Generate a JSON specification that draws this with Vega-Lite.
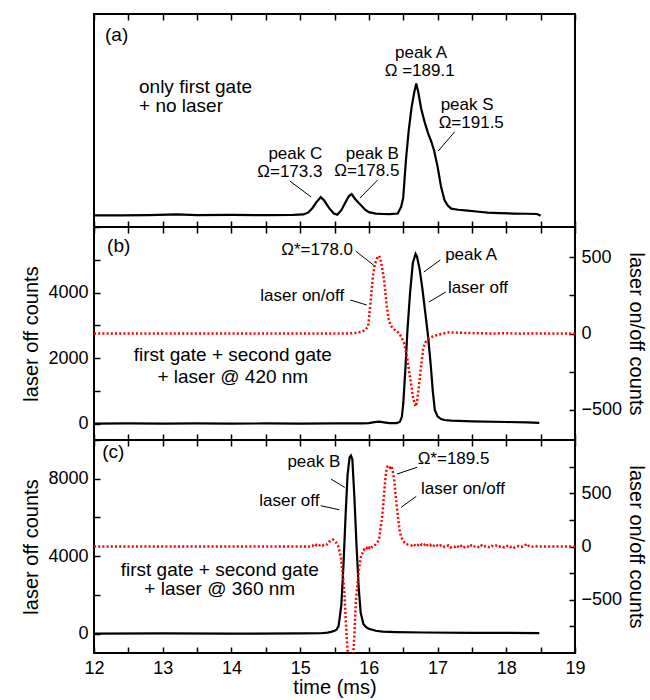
{
  "$schema": "https://vega.github.io/schema/vega-lite/v6.json",
  "padding": {"left": 20, "top": 12, "right": 0, "bottom": 0},
  "spacing": 0,
  "bounds": "flush",
  "config": {
    "view": {"stroke": "black", "strokeWidth": 2},
    "axis": {"grid": false, "domain": false, "tickColor": "black", "tickWidth": 1.5, "tickSize": -6, "labelPadding": 12, "labelFont": "Liberation Sans", "labelFontSize": 18, "labelColor": "black", "labelOverlap": false, "labelFlush": false, "titleFont": "Liberation Sans", "titleFontSize": 20, "titleFontWeight": "normal", "titleColor": "black"},
    "text": {"font": "Liberation Sans", "color": "black"}
  },
  "datasets": {
    "a_black": [
      {"t":12.0,"v":0.02},{"t":12.4,"v":0.02},{"t":12.8,"v":0.03},{"t":13.2,"v":0.06},{"t":13.5,"v":0.03},{"t":14.0,"v":0.04},{"t":14.5,"v":0.03},{"t":14.9,"v":0.04},{"t":15.05,"v":0.06},{"t":15.12,"v":0.15},{"t":15.18,"v":0.35},{"t":15.24,"v":0.62},{"t":15.3,"v":0.83},{"t":15.35,"v":0.68},{"t":15.42,"v":0.35},{"t":15.49,"v":0.1},{"t":15.54,"v":0.05},{"t":15.6,"v":0.25},{"t":15.66,"v":0.6},{"t":15.71,"v":0.88},{"t":15.75,"v":0.97},{"t":15.8,"v":0.75},{"t":15.85,"v":0.58},{"t":15.9,"v":0.43},{"t":15.95,"v":0.26},{"t":16.0,"v":0.16},{"t":16.1,"v":0.1},{"t":16.2,"v":0.08},{"t":16.3,"v":0.07},{"t":16.42,"v":0.1},{"t":16.47,"v":0.4},{"t":16.5,"v":0.8},{"t":16.54,"v":2.5},{"t":16.58,"v":3.8},{"t":16.62,"v":4.8},{"t":16.66,"v":5.5},{"t":16.69,"v":5.9},{"t":16.72,"v":5.5},{"t":16.76,"v":4.8},{"t":16.81,"v":4.2},{"t":16.86,"v":3.7},{"t":16.91,"v":3.3},{"t":16.95,"v":2.9},{"t":17.0,"v":2.2},{"t":17.05,"v":1.3},{"t":17.1,"v":0.7},{"t":17.15,"v":0.45},{"t":17.2,"v":0.32},{"t":17.3,"v":0.27},{"t":17.44,"v":0.23},{"t":17.6,"v":0.18},{"t":17.73,"v":0.14},{"t":17.9,"v":0.12},{"t":18.1,"v":0.1},{"t":18.3,"v":0.09},{"t":18.45,"v":0.08},{"t":18.5,"v":0.0}
    ],
    "a_notes": [{"t":12.16,"v":8.06,"label":"(a)"},{"t":12.655,"v":5.74,"label":"only first gate"},{"t":12.655,"v":4.89,"label":"+ no laser"}],
    "a_peaks": [{"t":16.76,"v":7.25,"label":"peak A"},{"t":16.74,"v":6.45,"label":"Ω =189.1"},{"t":17.43,"v":4.92,"label":"peak S"},{"t":17.49,"v":4.12,"label":"Ω=191.5"},{"t":14.93,"v":2.76,"label":"peak C"},{"t":14.85,"v":1.95,"label":"Ω=173.3"},{"t":16.05,"v":2.76,"label":"peak B"},{"t":15.97,"v":1.98,"label":"Ω=178.5"}],
    "a_leaders": [{"t":14.85,"v":1.55,"t2":15.16,"v2":0.84},{"t":16.13,"v":1.6,"t2":15.87,"v2":0.79},{"t":17.25,"v":3.75,"t2":17.01,"v2":2.89}],
    "b_black": [
      {"t":12.0,"v":0},{"t":12.5,"v":5},{"t":13.0,"v":0},{"t":13.5,"v":5},{"t":14.0,"v":0},{"t":14.5,"v":5},{"t":15.0,"v":0},{"t":15.5,"v":5},{"t":15.9,"v":5},{"t":16.0,"v":15},{"t":16.08,"v":45},{"t":16.15,"v":60},{"t":16.22,"v":40},{"t":16.3,"v":15},{"t":16.4,"v":15},{"t":16.45,"v":50},{"t":16.48,"v":200},{"t":16.5,"v":600},{"t":16.53,"v":1600},{"t":16.56,"v":2800},{"t":16.6,"v":4000},{"t":16.64,"v":4900},{"t":16.68,"v":5180},{"t":16.7,"v":5100},{"t":16.74,"v":4700},{"t":16.78,"v":4100},{"t":16.82,"v":3400},{"t":16.86,"v":2700},{"t":16.9,"v":1800},{"t":16.93,"v":1000},{"t":16.96,"v":420},{"t":17.0,"v":220},{"t":17.05,"v":140},{"t":17.1,"v":110},{"t":17.2,"v":90},{"t":17.5,"v":70},{"t":18.0,"v":50},{"t":18.3,"v":40},{"t":18.48,"v":20}
    ],
    "b_red": [
      {"t":12.0,"v":0},{"t":15.7,"v":0},{"t":15.8,"v":3},{"t":15.9,"v":12},{"t":15.95,"v":25},{"t":15.99,"v":47},{"t":16.02,"v":183},{"t":16.06,"v":380},{"t":16.09,"v":460},{"t":16.12,"v":495},{"t":16.15,"v":511},{"t":16.18,"v":468},{"t":16.22,"v":358},{"t":16.26,"v":183},{"t":16.29,"v":90},{"t":16.32,"v":51},{"t":16.36,"v":30},{"t":16.39,"v":18},{"t":16.43,"v":5},{"t":16.46,"v":-14},{"t":16.51,"v":-58},{"t":16.56,"v":-168},{"t":16.61,"v":-321},{"t":16.64,"v":-410},{"t":16.66,"v":-452},{"t":16.68,"v":-480},{"t":16.7,"v":-450},{"t":16.72,"v":-380},{"t":16.75,"v":-255},{"t":16.79,"v":-102},{"t":16.82,"v":-60},{"t":16.86,"v":-40},{"t":16.9,"v":-25},{"t":16.95,"v":-15},{"t":17.0,"v":-10},{"t":17.08,"v":0},{"t":17.17,"v":8},{"t":17.3,"v":5},{"t":17.43,"v":3},{"t":17.6,"v":2},{"t":17.8,"v":0},{"t":18.0,"v":2},{"t":18.2,"v":-1},{"t":18.4,"v":1},{"t":18.6,"v":0},{"t":19.0,"v":0}
    ],
    "b_panel": [{"t":12.19,"v":5420,"label":"(b)"}],
    "b_big": [{"t":14.02,"v":2080,"label":"first gate + second gate"},{"t":14.02,"v":1430,"label":"+ laser @ 420 nm"}],
    "b_right": [{"t":15.77,"v":5298,"label":"Ω*=178.0"},{"t":15.64,"v":3894,"label":"laser on/off"}],
    "b_left": [{"t":17.11,"v":5145,"label":"peak A"},{"t":17.15,"v":4141,"label":"laser off"}],
    "b_leaders": [{"t":15.81,"v":5262,"t2":16.07,"v2":4834},{"t":15.73,"v":3772,"t2":15.97,"v2":3619},{"t":17.04,"v":4993,"t2":16.8,"v2":4627},{"t":17.12,"v":4016,"t2":16.875,"v2":3711}],
    "c_black": [
      {"t":12.0,"v":0},{"t":13.0,"v":10},{"t":14.0,"v":0},{"t":15.0,"v":10},{"t":15.3,"v":20},{"t":15.4,"v":50},{"t":15.45,"v":90},{"t":15.5,"v":150},{"t":15.53,"v":200},{"t":15.56,"v":400},{"t":15.6,"v":1500},{"t":15.63,"v":3500},{"t":15.66,"v":6000},{"t":15.69,"v":8200},{"t":15.72,"v":9100},{"t":15.74,"v":9200},{"t":15.76,"v":9000},{"t":15.79,"v":7000},{"t":15.82,"v":4600},{"t":15.85,"v":2500},{"t":15.88,"v":1100},{"t":15.92,"v":500},{"t":15.96,"v":330},{"t":16.0,"v":250},{"t":16.1,"v":150},{"t":16.2,"v":100},{"t":16.4,"v":80},{"t":16.8,"v":60},{"t":17.5,"v":40},{"t":18.48,"v":30}
    ],
    "c_red": [
      {"t":12.0,"v":0},{"t":15.15,"v":0},{"t":15.18,"v":10},{"t":15.21,"v":-5},{"t":15.24,"v":15},{"t":15.27,"v":5},{"t":15.3,"v":20},{"t":15.33,"v":10},{"t":15.36,"v":25},{"t":15.39,"v":20},{"t":15.42,"v":45},{"t":15.45,"v":50},{"t":15.48,"v":65},{"t":15.5,"v":55},{"t":15.52,"v":40},{"t":15.55,"v":10},{"t":15.57,"v":-40},{"t":15.59,"v":-90},{"t":15.61,"v":-200},{"t":15.63,"v":-330},{"t":15.645,"v":-450},{"t":15.66,"v":-650},{"t":15.68,"v":-880},{"t":15.7,"v":-1050},{"t":15.72,"v":-1050},{"t":15.74,"v":-1050},{"t":15.76,"v":-1050},{"t":15.78,"v":-950},{"t":15.795,"v":-750},{"t":15.81,"v":-520},{"t":15.83,"v":-380},{"t":15.85,"v":-250},{"t":15.87,"v":-150},{"t":15.89,"v":-80},{"t":15.91,"v":-60},{"t":15.93,"v":-30},{"t":15.95,"v":-40},{"t":15.97,"v":-15},{"t":15.99,"v":-30},{"t":16.01,"v":-10},{"t":16.03,"v":-20},{"t":16.05,"v":0},{"t":16.07,"v":10},{"t":16.09,"v":15},{"t":16.11,"v":30},{"t":16.13,"v":45},{"t":16.15,"v":80},{"t":16.17,"v":170},{"t":16.19,"v":260},{"t":16.21,"v":400},{"t":16.23,"v":560},{"t":16.25,"v":700},{"t":16.27,"v":750},{"t":16.29,"v":760},{"t":16.31,"v":740},{"t":16.33,"v":755},{"t":16.35,"v":700},{"t":16.37,"v":620},{"t":16.39,"v":480},{"t":16.41,"v":350},{"t":16.43,"v":240},{"t":16.45,"v":140},{"t":16.47,"v":90},{"t":16.5,"v":50},{"t":16.53,"v":30},{"t":16.56,"v":20},{"t":16.59,"v":15},{"t":16.62,"v":10},{"t":16.65,"v":25},{"t":16.68,"v":5},{"t":16.71,"v":15},{"t":16.74,"v":0},{"t":16.77,"v":20},{"t":16.8,"v":10},{"t":16.83,"v":30},{"t":16.86,"v":5},{"t":16.89,"v":15},{"t":16.92,"v":-5},{"t":16.95,"v":10},{"t":16.98,"v":20},{"t":17.01,"v":0},{"t":17.04,"v":10},{"t":17.07,"v":15},{"t":17.1,"v":-5},{"t":17.13,"v":5},{"t":17.16,"v":10},{"t":17.19,"v":-10},{"t":17.22,"v":0},{"t":17.25,"v":-5},{"t":17.28,"v":10},{"t":17.31,"v":-10},{"t":17.34,"v":5},{"t":17.37,"v":-15},{"t":17.4,"v":0},{"t":17.43,"v":5},{"t":17.46,"v":-10},{"t":17.49,"v":10},{"t":17.52,"v":-5},{"t":17.55,"v":5},{"t":17.58,"v":0},{"t":17.61,"v":-10},{"t":17.64,"v":10},{"t":17.67,"v":-5},{"t":17.7,"v":5},{"t":17.73,"v":0},{"t":17.76,"v":-10},{"t":17.79,"v":5},{"t":17.82,"v":0},{"t":17.85,"v":10},{"t":17.88,"v":-5},{"t":17.91,"v":0},{"t":17.94,"v":5},{"t":17.97,"v":-10},{"t":18.0,"v":0},{"t":18.03,"v":10},{"t":18.06,"v":-5},{"t":18.09,"v":5},{"t":18.12,"v":-10},{"t":18.15,"v":0},{"t":18.18,"v":5},{"t":18.21,"v":-5},{"t":18.24,"v":0},{"t":18.27,"v":10},{"t":18.3,"v":25},{"t":18.33,"v":5},{"t":18.36,"v":-5},{"t":18.39,"v":0},{"t":18.42,"v":5},{"t":18.45,"v":0},{"t":19.0,"v":0}
    ],
    "c_panel": [{"t":12.12,"v":9404,"label":"(c)"}],
    "c_big": [{"t":13.83,"v":3300,"label":"first gate + second gate"},{"t":13.83,"v":2280,"label":"+ laser @ 360 nm"}],
    "c_right": [{"t":15.585,"v":8846,"label":"peak B"},{"t":15.28,"v":6863,"label":"laser off"}],
    "c_left": [{"t":16.71,"v":9016,"label":"Ω*=189.5"},{"t":16.76,"v":7467,"label":"laser on/off"}],
    "c_leaders": [{"t":15.45,"v":7978,"t2":15.65,"v2":7550},{"t":15.3,"v":6605,"t2":15.57,"v2":6398},{"t":16.7,"v":8588,"t2":16.41,"v2":8242},{"t":16.69,"v":7090,"t2":16.47,"v2":6522}]
  },
  "vconcat": [
    {
      "width": 481, "height": 213,
      "layer": [
        {"data": {"name": "a_black"}, "mark": {"type": "line", "color": "black", "strokeWidth": 2.2, "clip": true},
         "encoding": {
           "x": {"field": "t", "type": "quantitative", "scale": {"domain": [12, 19]}, "axis": {"orient": "bottom", "values": [12,12.5,13,13.5,14,14.5,15,15.5,16,16.5,17,17.5,18,18.5,19], "labels": false, "title": null}},
           "y": {"field": "v", "type": "quantitative", "scale": {"domain": [-0.5, 9]}, "axis": {"orient": "left", "values": [0,1,2,3,4,5,6,7,8,9], "labels": false, "title": null}}
         }},
        {"data": {"name": "a_leaders"}, "mark": {"type": "rule", "color": "black", "strokeWidth": 1},
         "encoding": {
           "x": {"field": "t", "type": "quantitative", "scale": {"domain": [12, 19]}, "axis": {"orient": "top", "values": [12,12.5,13,13.5,14,14.5,15,15.5,16,16.5,17,17.5,18,18.5,19], "labels": false, "title": null}},
           "y": {"field": "v", "type": "quantitative", "scale": {"domain": [-0.5, 9]}, "axis": null},
           "x2": {"field": "t2"}, "y2": {"field": "v2"}
         }},
        {"data": {"name": "a_notes"}, "mark": {"type": "text", "align": "left", "baseline": "middle", "fontSize": 19},
         "encoding": {
           "x": {"field": "t", "type": "quantitative", "scale": {"domain": [12, 19]}, "axis": null},
           "y": {"field": "v", "type": "quantitative", "scale": {"domain": [-0.5, 9]}, "axis": null},
           "text": {"field": "label"}
         }},
        {"data": {"name": "a_peaks"}, "mark": {"type": "text", "align": "center", "baseline": "middle", "fontSize": 17},
         "encoding": {
           "x": {"field": "t", "type": "quantitative", "scale": {"domain": [12, 19]}, "axis": null},
           "y": {"field": "v", "type": "quantitative", "scale": {"domain": [-0.5, 9]}, "axis": null},
           "text": {"field": "label"}
         }}
      ],
      "resolve": {"axis": {"x": "independent"}}
    },
    {
      "width": 481, "height": 213,
      "layer": [
        {"data": {"name": "b_black"}, "mark": {"type": "line", "color": "black", "strokeWidth": 2.2, "clip": true},
         "encoding": {
           "x": {"field": "t", "type": "quantitative", "scale": {"domain": [12, 19]}, "axis": {"orient": "bottom", "values": [12,12.5,13,13.5,14,14.5,15,15.5,16,16.5,17,17.5,18,18.5,19], "labels": false, "title": null}},
           "y": {"field": "v", "type": "quantitative", "scale": {"domain": [-500, 6000]}, "axis": {"orient": "left", "values": [0,1000,2000,3000,4000,5000,6000], "format": "d", "labelExpr": "datum.value % 2000 === 0 && datum.value < 6000 ? datum.label : ''", "title": "laser off counts", "titlePadding": 6}}
         }},
        {"data": {"name": "b_red"}, "mark": {"type": "line", "color": "#ff0000", "strokeWidth": 2.5, "strokeDash": [2, 2.2], "clip": true},
         "encoding": {
           "x": {"field": "t", "type": "quantitative", "scale": {"domain": [12, 19]}, "axis": {"orient": "top", "values": [12,12.5,13,13.5,14,14.5,15,15.5,16,16.5,17,17.5,18,18.5,19], "labels": false, "title": null}},
           "y": {"field": "v", "type": "quantitative", "scale": {"domain": [-700, 700]}, "axis": {"orient": "right", "values": [-500,-250,0,250,500], "format": "d", "labelExpr": "datum.value % 500 === 0 ? datum.label : ''", "title": "laser on/off counts", "titlePadding": 4}}
         }},
        {"data": {"name": "b_leaders"}, "mark": {"type": "rule", "color": "black", "strokeWidth": 1},
         "encoding": {
           "x": {"field": "t", "type": "quantitative", "scale": {"domain": [12, 19]}, "axis": null},
           "y": {"field": "v", "type": "quantitative", "scale": {"domain": [-500, 6000]}, "axis": null},
           "x2": {"field": "t2"}, "y2": {"field": "v2"}
         }},
        {"data": {"name": "b_panel"}, "mark": {"type": "text", "align": "left", "baseline": "middle", "fontSize": 19},
         "encoding": {
           "x": {"field": "t", "type": "quantitative", "scale": {"domain": [12, 19]}, "axis": null},
           "y": {"field": "v", "type": "quantitative", "scale": {"domain": [-500, 6000]}, "axis": null},
           "text": {"field": "label"}
         }},
        {"data": {"name": "b_big"}, "mark": {"type": "text", "align": "center", "baseline": "middle", "fontSize": 19},
         "encoding": {
           "x": {"field": "t", "type": "quantitative", "scale": {"domain": [12, 19]}, "axis": null},
           "y": {"field": "v", "type": "quantitative", "scale": {"domain": [-500, 6000]}, "axis": null},
           "text": {"field": "label"}
         }},
        {"data": {"name": "b_right"}, "mark": {"type": "text", "align": "right", "baseline": "middle", "fontSize": 17},
         "encoding": {
           "x": {"field": "t", "type": "quantitative", "scale": {"domain": [12, 19]}, "axis": null},
           "y": {"field": "v", "type": "quantitative", "scale": {"domain": [-500, 6000]}, "axis": null},
           "text": {"field": "label"}
         }},
        {"data": {"name": "b_left"}, "mark": {"type": "text", "align": "left", "baseline": "middle", "fontSize": 17},
         "encoding": {
           "x": {"field": "t", "type": "quantitative", "scale": {"domain": [12, 19]}, "axis": null},
           "y": {"field": "v", "type": "quantitative", "scale": {"domain": [-500, 6000]}, "axis": null},
           "text": {"field": "label"}
         }}
      ],
      "resolve": {"scale": {"y": "independent"}, "axis": {"x": "independent", "y": "independent"}}
    },
    {
      "width": 481, "height": 213,
      "layer": [
        {"data": {"name": "c_black"}, "mark": {"type": "line", "color": "black", "strokeWidth": 2.2, "clip": true},
         "encoding": {
           "x": {"field": "t", "type": "quantitative", "scale": {"domain": [12, 19]}, "axis": {"orient": "bottom", "values": [12,12.5,13,13.5,14,14.5,15,15.5,16,16.5,17,17.5,18,18.5,19], "labelExpr": "datum.value % 1 === 0 ? format(datum.value, 'd') : ''", "title": "time (ms)", "titlePadding": 0}},
           "y": {"field": "v", "type": "quantitative", "scale": {"domain": [-1000, 10000]}, "axis": {"orient": "left", "values": [0,2000,4000,6000,8000,10000], "format": "d", "labelExpr": "datum.value % 4000 === 0 ? datum.label : ''", "title": "laser off counts", "titlePadding": 6}}
         }},
        {"data": {"name": "c_red"}, "mark": {"type": "line", "color": "#ff0000", "strokeWidth": 2.5, "strokeDash": [2, 2.2], "clip": true},
         "encoding": {
           "x": {"field": "t", "type": "quantitative", "scale": {"domain": [12, 19]}, "axis": {"orient": "top", "values": [12,12.5,13,13.5,14,14.5,15,15.5,16,16.5,17,17.5,18,18.5,19], "labels": false, "title": null}},
           "y": {"field": "v", "type": "quantitative", "scale": {"domain": [-1000, 1000]}, "axis": {"orient": "right", "values": [-750,-500,-250,0,250,500,750], "format": "d", "labelExpr": "datum.value % 500 === 0 ? datum.label : ''", "title": "laser on/off counts", "titlePadding": 4}}
         }},
        {"data": {"name": "c_leaders"}, "mark": {"type": "rule", "color": "black", "strokeWidth": 1},
         "encoding": {
           "x": {"field": "t", "type": "quantitative", "scale": {"domain": [12, 19]}, "axis": null},
           "y": {"field": "v", "type": "quantitative", "scale": {"domain": [-1000, 10000]}, "axis": null},
           "x2": {"field": "t2"}, "y2": {"field": "v2"}
         }},
        {"data": {"name": "c_panel"}, "mark": {"type": "text", "align": "left", "baseline": "middle", "fontSize": 19},
         "encoding": {
           "x": {"field": "t", "type": "quantitative", "scale": {"domain": [12, 19]}, "axis": null},
           "y": {"field": "v", "type": "quantitative", "scale": {"domain": [-1000, 10000]}, "axis": null},
           "text": {"field": "label"}
         }},
        {"data": {"name": "c_big"}, "mark": {"type": "text", "align": "center", "baseline": "middle", "fontSize": 19},
         "encoding": {
           "x": {"field": "t", "type": "quantitative", "scale": {"domain": [12, 19]}, "axis": null},
           "y": {"field": "v", "type": "quantitative", "scale": {"domain": [-1000, 10000]}, "axis": null},
           "text": {"field": "label"}
         }},
        {"data": {"name": "c_right"}, "mark": {"type": "text", "align": "right", "baseline": "middle", "fontSize": 17},
         "encoding": {
           "x": {"field": "t", "type": "quantitative", "scale": {"domain": [12, 19]}, "axis": null},
           "y": {"field": "v", "type": "quantitative", "scale": {"domain": [-1000, 10000]}, "axis": null},
           "text": {"field": "label"}
         }},
        {"data": {"name": "c_left"}, "mark": {"type": "text", "align": "left", "baseline": "middle", "fontSize": 17},
         "encoding": {
           "x": {"field": "t", "type": "quantitative", "scale": {"domain": [12, 19]}, "axis": null},
           "y": {"field": "v", "type": "quantitative", "scale": {"domain": [-1000, 10000]}, "axis": null},
           "text": {"field": "label"}
         }}
      ],
      "resolve": {"scale": {"y": "independent"}, "axis": {"x": "independent", "y": "independent"}}
    }
  ]
}
